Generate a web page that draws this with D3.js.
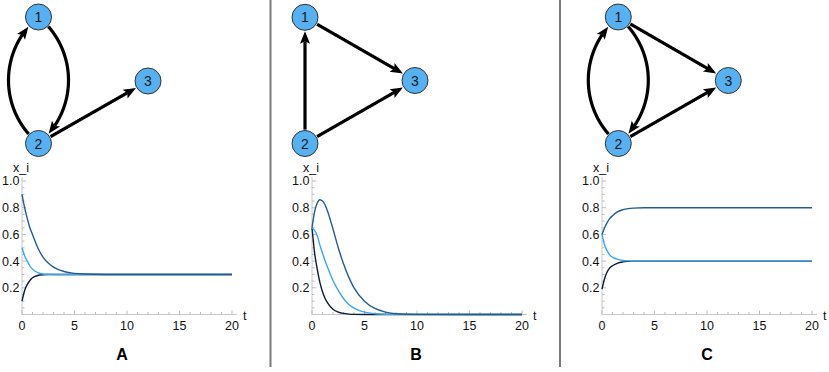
<!DOCTYPE html>
<html>
<head>
<meta charset="utf-8">
<script src="https://cdn.jsdelivr.net/npm/d3@7"></script>
<style>
  html, body { margin: 0; padding: 0; background: #fff; }
  svg { display: block; font-family: "Liberation Sans", Arial, Helvetica, sans-serif; }
</style>
</head>
<body>
<svg id="chart" width="829" height="372"></svg>
<script>
// ---------------- DATA ----------------
const panelLabels = ["A", "B", "C"];
const nodeIds = [1, 2, 3];
const edgesA = [[1, 2], [2, 1], [2, 3]];
const edgesB = [[2, 1], [1, 3], [2, 3]];
const edgesC = [[1, 2], [2, 1], [1, 3], [2, 3]];

const xTicks = [0, 5, 10, 15, 20];
const yTicks = [0.2, 0.4, 0.6, 0.8, 1.0];
const yTickLabels = ["0.2", "0.4", "0.6", "0.8", "1.0"];
const xAxisTitle = "t";
const yAxisTitle = "x_i";

const tA = [0, 0.25, 0.5, 0.75, 1, 1.5, 2, 2.5, 3, 4, 5, 6, 8, 10, 15, 20];
const aDark  = [0.90, 0.80, 0.72, 0.65, 0.60, 0.50, 0.43, 0.385, 0.355, 0.322, 0.308, 0.303, 0.300, 0.300, 0.300, 0.300];
const aLight = [0.50, 0.44, 0.40, 0.365, 0.34, 0.313, 0.303, 0.301, 0.300, 0.300, 0.300, 0.300, 0.300, 0.300, 0.300, 0.300];
const aBlack = [0.10, 0.18, 0.225, 0.255, 0.275, 0.292, 0.298, 0.300, 0.300, 0.300, 0.300, 0.300, 0.300, 0.300, 0.300, 0.300];

const tB = [0, 0.25, 0.5, 0.75, 1, 1.25, 1.5, 2, 2.5, 3, 3.5, 4, 5, 6, 7, 8, 10, 15, 20];
const bDark  = [0.65, 0.77, 0.835, 0.86, 0.85, 0.82, 0.77, 0.64, 0.50, 0.38, 0.28, 0.20, 0.10, 0.045, 0.018, 0.006, 0.001, 0, 0];
const bLight = [0.65, 0.63, 0.59, 0.52, 0.46, 0.40, 0.35, 0.255, 0.18, 0.12, 0.075, 0.048, 0.018, 0.006, 0.002, 0.001, 0, 0, 0];
const bBlack = [0.65, 0.46, 0.34, 0.24, 0.17, 0.12, 0.085, 0.04, 0.018, 0.008, 0.003, 0.001, 0, 0, 0, 0, 0, 0, 0];

const tC = [0, 0.25, 0.5, 0.75, 1, 1.5, 2, 2.5, 3, 4, 5, 8, 10, 15, 20];
const cDark  = [0.60, 0.65, 0.69, 0.72, 0.74, 0.77, 0.785, 0.793, 0.797, 0.800, 0.800, 0.800, 0.800, 0.800, 0.800];
const cLight = [0.60, 0.52, 0.475, 0.445, 0.43, 0.413, 0.405, 0.402, 0.401, 0.400, 0.400, 0.400, 0.400, 0.400, 0.400];
const cBlack = [0.19, 0.27, 0.32, 0.35, 0.365, 0.385, 0.394, 0.398, 0.400, 0.400, 0.400, 0.400, 0.400, 0.400, 0.400];

// ---------------- LAYOUT / STYLE ----------------
const colors = { black: "#0c1c36", dark: "#245c90", light: "#3da5ef" };
const panels = [
  { label: panelLabels[0], edges: edgesA, t: tA, series: [aBlack, aLight, aDark],
    x0: 22, labelX: 122,
    nodes: { 1: [38.5, 17], 2: [38.5, 143.5], 3: [148, 81] } },
  { label: panelLabels[1], edges: edgesB, t: tB, series: [bBlack, bLight, bDark],
    x0: 312, labelX: 416,
    nodes: { 1: [305, 17.3], 2: [305, 143.5], 3: [415, 80.5] } },
  { label: panelLabels[2], edges: edgesC, t: tC, series: [cBlack, cLight, cDark],
    x0: 602, labelX: 707,
    nodes: { 1: [618.3, 17], 2: [618.3, 143.5], 3: [728.3, 80.5] } }
];
const seriesColors = [colors.black, colors.light, colors.dark];
const yBottom = 314.5, yTop = 181, xSpan = 210;
const nodeR = 13;

const svg = d3.select("#chart");

// dividers
[270.5, 560].forEach(x => {
  svg.append("line").attr("x1", x).attr("x2", x).attr("y1", 0).attr("y2", 367)
    .attr("stroke", "#7a7a7a").attr("stroke-width", 2);
});

function arcPoints(a, b, s) {
  const pts = [];
  const dx = b[0] - a[0], dy = b[1] - a[1];
  const L = Math.hypot(dx, dy);
  if (!s) {
    for (let i = 0; i <= 200; i++) pts.push([a[0] + dx * i / 200, a[1] + dy * i / 200]);
    return pts;
  }
  const n = [-dy / L, dx / L];
  const M = [(a[0] + b[0]) / 2, (a[1] + b[1]) / 2];
  const r = (L * L / 4 + s * s) / (2 * Math.abs(s));
  const sg = Math.sign(s);
  const C = [M[0] + n[0] * sg * (Math.abs(s) - r), M[1] + n[1] * sg * (Math.abs(s) - r)];
  const ta = Math.atan2(a[1] - C[1], a[0] - C[0]);
  const tb = Math.atan2(b[1] - C[1], b[0] - C[0]);
  let d = tb - ta;
  while (d > Math.PI) d -= 2 * Math.PI;
  while (d < -Math.PI) d += 2 * Math.PI;
  for (let i = 0; i <= 400; i++) {
    const th = ta + d * i / 400;
    pts.push([C[0] + r * Math.cos(th), C[1] + r * Math.sin(th)]);
  }
  return pts;
}

function drawEdge(g, a, b, s) {
  const pts = arcPoints(a, b, s);
  const dist = (p, q) => Math.hypot(p[0] - q[0], p[1] - q[1]);
  const startIdx = pts.findIndex(p => dist(p, a) >= nodeR + 0.5);
  let tipIdx = pts.length - 1;
  while (tipIdx > 0 && dist(pts[tipIdx], b) < nodeR + 0.8) tipIdx--;
  const tip = pts[tipIdx];
  const arrowLen = 12.5, arrowW = 10;
  let baseIdx = tipIdx;
  while (baseIdx > 0 && dist(pts[baseIdx], tip) < arrowLen) baseIdx--;
  const base = pts[baseIdx];
  let lineEnd = tipIdx;
  while (lineEnd > 0 && dist(pts[lineEnd], tip) < arrowLen - 3) lineEnd--;
  const linePts = pts.slice(startIdx, lineEnd + 1);
  g.append("path").attr("d", d3.line()(linePts))
    .attr("fill", "none").attr("stroke", "#000").attr("stroke-width", 3.2);
  const ux = (tip[0] - base[0]) / dist(tip, base), uy = (tip[1] - base[1]) / dist(tip, base);
  const bx = tip[0] - ux * arrowLen, by = tip[1] - uy * arrowLen;
  const nx = -uy, ny = ux;
  g.append("path")
    .attr("d", `M${tip[0]},${tip[1]}L${bx + nx * arrowW / 2},${by + ny * arrowW / 2}L${bx + ux * 2.5},${by + uy * 2.5}L${bx - nx * arrowW / 2},${by - ny * arrowW / 2}Z`)
    .attr("fill", "#000");
}

panels.forEach(p => {
  const g = svg.append("g");
  // graph
  const has = (u, v) => p.edges.some(e => e[0] === u && e[1] === v);
  p.edges.forEach(([u, v]) => {
    const curved = has(v, u);
    drawEdge(g, p.nodes[u], p.nodes[v], curved ? -30 : 0);
  });
  nodeIds.forEach(id => {
    const [cx, cy] = p.nodes[id];
    g.append("circle").attr("cx", cx).attr("cy", cy).attr("r", nodeR)
      .attr("fill", "#57b1f1").attr("stroke", "#333").attr("stroke-width", 1);
    g.append("text").attr("x", cx).attr("y", cy + 5).attr("text-anchor", "middle")
      .attr("font-size", 14).attr("fill", "#1a1a1a").text(id);
  });

  // plot
  const x = d3.scaleLinear().domain([0, 20]).range([p.x0, p.x0 + xSpan]);
  const y = d3.scaleLinear().domain([0, 1]).range([yBottom, yTop]);

  // axis lines
  g.append("line").attr("x1", p.x0).attr("x2", p.x0 + xSpan + 5)
    .attr("y1", yBottom).attr("y2", yBottom).attr("stroke", "#c8c8c8").attr("stroke-width", 1);
  g.append("line").attr("x1", p.x0).attr("x2", p.x0)
    .attr("y1", yBottom).attr("y2", y(1.03)).attr("stroke", "#c8c8c8").attr("stroke-width", 1);

  // minor/major ticks
  d3.range(0, 21, 1).forEach(v => {
    const major = v % 5 === 0;
    g.append("line").attr("x1", x(v)).attr("x2", x(v))
      .attr("y1", yBottom).attr("y2", yBottom - (major ? 4 : 2.5))
      .attr("stroke", "#bbb").attr("stroke-width", 1);
  });
  d3.range(0.05, 1.001, 0.05).forEach(v => {
    const major = Math.abs(v * 5 - Math.round(v * 5)) < 1e-6;
    g.append("line").attr("x1", p.x0).attr("x2", p.x0 + (major ? 4 : 2.5))
      .attr("y1", y(v)).attr("y2", y(v))
      .attr("stroke", "#bbb").attr("stroke-width", 1);
  });

  // tick labels
  xTicks.forEach(v => {
    g.append("text").attr("x", x(v)).attr("y", yBottom + 15.5).attr("text-anchor", "middle")
      .attr("font-size", 12.5).attr("fill", "#111").text(v);
  });
  yTicks.forEach((v, i) => {
    g.append("text").attr("x", p.x0 - 2.5).attr("y", y(v) + 4.4).attr("text-anchor", "end")
      .attr("font-size", 12.5).attr("fill", "#111").text(yTickLabels[i]);
  });
  g.append("text").attr("x", p.x0 + xSpan + 11).attr("y", yBottom + 5.5)
    .attr("text-anchor", "start").attr("font-size", 12.5).attr("fill", "#111").text(xAxisTitle);
  g.append("text").attr("x", p.x0 - 1).attr("y", 171.5)
    .attr("text-anchor", "middle").attr("font-size", 12.5).attr("fill", "#111").text(yAxisTitle);

  // series
  const line = d3.line().x(d => x(d[0])).y(d => y(d[1])).curve(d3.curveMonotoneX);
  p.series.forEach((vals, i) => {
    g.append("path").datum(p.t.map((t, j) => [t, vals[j]]))
      .attr("d", line).attr("fill", "none")
      .attr("stroke", seriesColors[i]).attr("stroke-width", 1.4);
  });

  // panel label
  g.append("text").attr("x", p.labelX).attr("y", 360).attr("text-anchor", "middle")
    .attr("font-size", 16).attr("font-weight", "bold").attr("fill", "#000").text(p.label);
});
</script>
</body>
</html>
